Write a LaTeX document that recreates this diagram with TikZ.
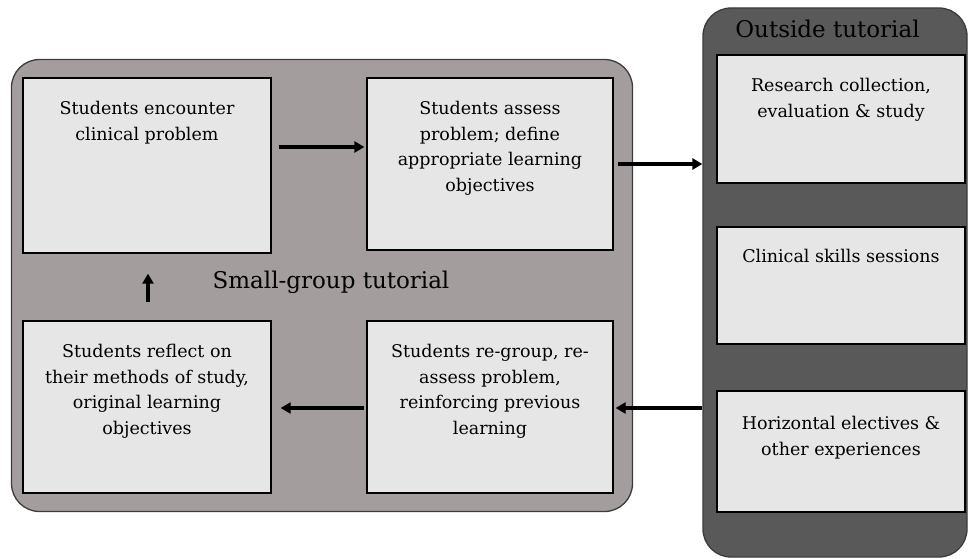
\documentclass[tikz,border=0pt]{standalone}
\usepackage{fontspec}
\setmainfont{DejaVu Serif}
\usetikzlibrary{arrows.meta,calc}
\definecolor{smallfill}{RGB}{164,157,157}
\definecolor{outfill}{RGB}{89,89,89}
\definecolor{boxfill}{RGB}{230,230,230}
\definecolor{edgegray}{RGB}{60,60,60}
\tikzset{
  container/.style={draw=edgegray, line width=1.3pt, rounded corners=28pt, inner sep=0pt},
  stepbox/.style={draw=black, line width=1.3pt, fill=boxfill, inner sep=0pt},
  txt/.style={anchor=north, align=center, inner sep=0pt, font=\fontsize{17.5}{25.5}\selectfont},
  title/.style={inner sep=0pt, anchor=base, font=\fontsize{23}{27}\selectfont},
  flow/.style={line width=3.6pt, -{Triangle[length=10pt,width=11pt]}}
}
\begin{document}
\begin{tikzpicture}[x=1pt,y=-1pt]
\useasboundingbox (0,0) rectangle (969,559);
% containers
\node[container, fill=smallfill, minimum width=621pt, minimum height=452pt] (small) at (322,285.5) {};
\node[container, fill=outfill, minimum width=264pt, minimum height=549pt] (outer) at (835,282.5) {};
% titles
\node[title] (smalltitle) at (331,288) {Small-group tutorial};
\node[title] (outtitle) at (827.5,38) {Outside tutorial};
% small-group boxes
\node[stepbox, minimum width=248pt, minimum height=175pt] (b1) at (147,165.5) {};
\node[stepbox, minimum width=246pt, minimum height=172pt] (b2) at (490,164) {};
\node[stepbox, minimum width=248pt, minimum height=172pt] (b3) at (147,407) {};
\node[stepbox, minimum width=246pt, minimum height=172pt] (b4) at (490,407) {};
% outside boxes
\node[stepbox, minimum width=248pt, minimum height=128pt] (o1) at (841,119) {};
\node[stepbox, minimum width=248pt, minimum height=117pt] (o2) at (841,285.5) {};
\node[stepbox, minimum width=248pt, minimum height=121pt] (o3) at (841,451.5) {};
% texts
\node[txt] (t1) at ([yshift=-24pt]b1.north) {Students encounter\\clinical problem};
\node[txt] (t2) at ([yshift=-24pt]b2.north) {Students assess\\problem; define\\appropriate learning\\objectives};
\node[txt] (t3) at ([yshift=-24pt]b3.north) {Students reflect on\\their methods of study,\\original learning\\objectives};
\node[txt] (t4) at ([yshift=-24pt]b4.north) {Students re-group, re-\\assess problem,\\reinforcing previous\\learning};
\node[txt] (u1) at ([yshift=-24pt]o1.north) {Research collection,\\evaluation \& study};
\node[txt] (u2) at ([yshift=-23pt]o2.north) {Clinical skills sessions};
\node[txt] (u3) at ([yshift=-26pt]o3.north) {Horizontal electives \&\\other experiences};
% connectors
\draw[flow, shorten <=7pt, shorten >=2pt] ([yshift=18.5pt]b1.east) -- ([yshift=18.5pt]b1.east -| b2.west);
\draw[flow, shorten <=4pt] (b2.east) -- (b2.east -| outer.west);
\draw[flow, shorten >=2pt] ([yshift=-1pt]b4.east -| outer.west) -- ([yshift=-1pt]b4.east);
\draw[flow, shorten <=2pt, shorten >=9pt] ([yshift=-1pt]b4.west) -- ([yshift=-1pt]b4.west -| b3.east);
\draw[flow, shorten <=18pt, shorten >=20pt] ([xshift=1pt]b3.north) -- ([xshift=1pt]b1.south);
\end{tikzpicture}
\end{document}
